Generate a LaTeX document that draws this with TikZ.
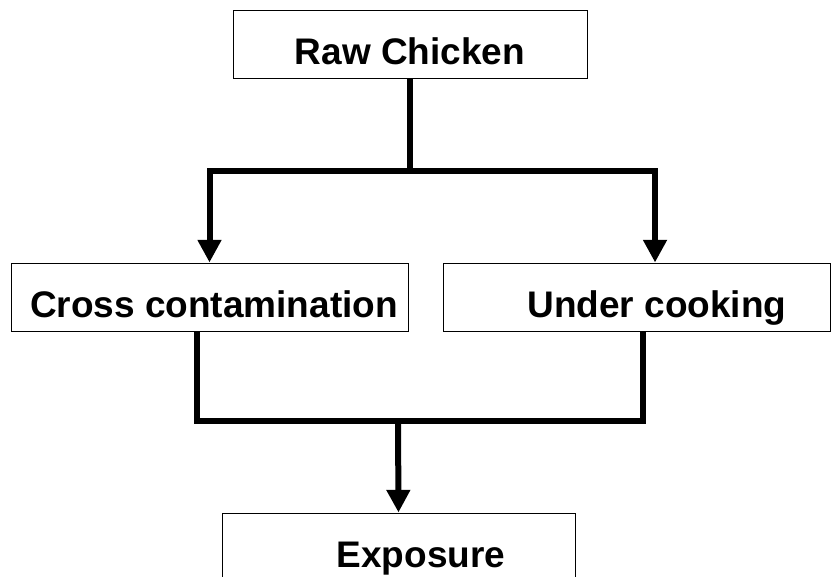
\documentclass[tikz,border=0pt]{standalone}
\usepackage{fontspec}
\setmainfont{Liberation Sans}
\usetikzlibrary{arrows.meta}

\tikzset{
  box/.style={draw, line width=0.75pt, minimum height=51pt, inner sep=0pt,
    text height=31pt, text depth=1pt,
    font=\fontsize{27.75}{33}\selectfont\bfseries},
  link/.style={line width=4.5pt, line join=miter},
  flow/.style={link, -{Triangle[length=17pt,width=17pt]}}
}

\begin{document}
\begin{tikzpicture}[x=0.75pt,y=0.75pt,yscale=-1,xscale=1]
      \useasboundingbox (0,0) rectangle (831,577);
      % boxes
      \node[box, minimum width=265.5pt]  (raw)   at (410,45)    {Raw Chicken};
      \node[box, minimum width=297.75pt] (cross) at (209.5,297) {\hspace*{6.75pt}Cross contamination};
      \node[box, minimum width=290.25pt] (under) at (636.5,297) {\hspace*{30.75pt}Under cooking};
      \node[box, minimum width=264.75pt] (expo)  at (398.5,547) {\hspace*{33.75pt}Exposure};
      % branch points
      \coordinate (fork) at (410,171);
      \coordinate (join) at (398,421);
      % connectors
      \draw[link] (raw.south) -- (fork);
      \draw[flow] (fork) -| (cross.north);
      \draw[flow] (fork) -| ([xshift=13.9pt]under.north);
      \draw[link] ([xshift=-9.4pt]cross.south) |- (join) -| ([xshift=4.9pt]under.south);
      \draw[flow] (join) -- (expo.north);
    \end{tikzpicture}
\end{document}
